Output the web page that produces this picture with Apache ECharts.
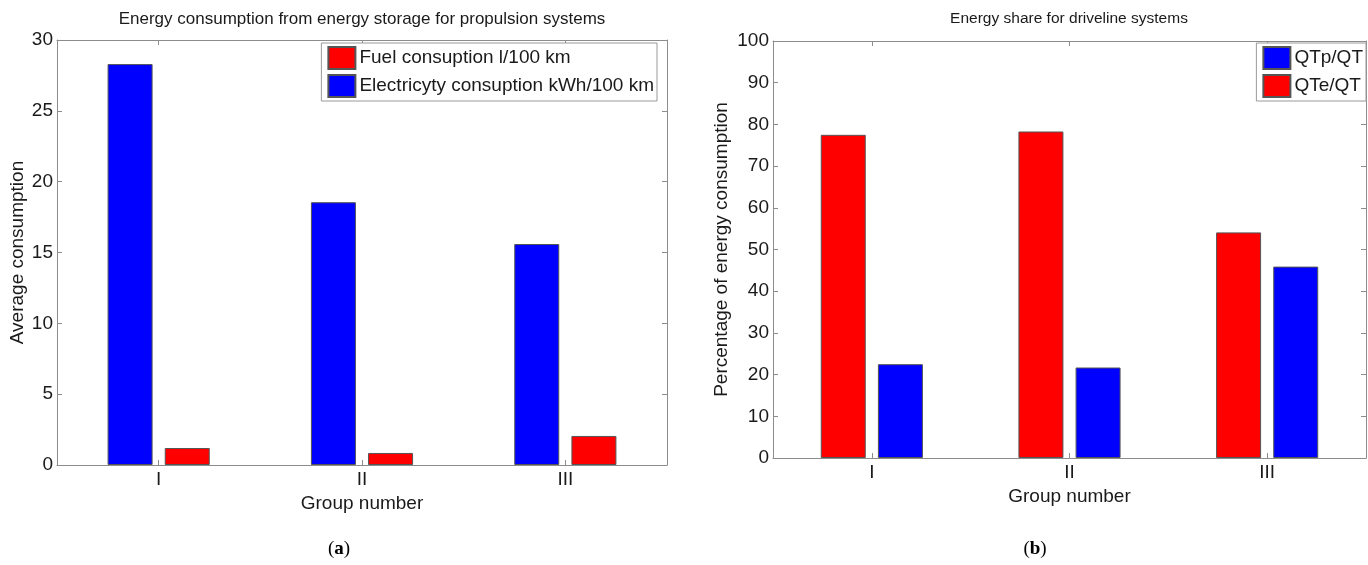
<!DOCTYPE html>
<html>
<head>
<meta charset="utf-8">
<script src="https://cdn.jsdelivr.net/npm/echarts@6/dist/echarts.min.js"></script>
<style>
  html, body { margin: 0; padding: 0; background: #fff; }
  #chart { width: 1368px; height: 565px; }
</style>
</head>
<body>
<div id="chart"></div>
<script>
// Group labels shared by both panels
const groups = ['I', 'II', 'III'];

// Panel (a): average consumption per group
const electricityKWh = [28.3, 18.55, 15.6];
const fuelLitres = [1.2, 0.85, 2.05];
const consumptionTicks = { min: 0, max: 30, interval: 5 };

// Panel (b): energy share per group, in percent
const shareQTe = [77.5, 78.3, 54.1];
const shareQTp = [22.5, 21.7, 45.9];
const shareTicks = { min: 0, max: 100, interval: 10 };

const FONT = '"Liberation Sans", Arial, sans-serif';
const FRAME = '#8c8c8c';
const TEXT = '#1a1a1a';
const RED = '#ff0000';
const BLUE = '#0000ff';
const FS = 19;

function catAxis(gridIndex, pos, withLabels, name) {
  return {
    type: 'category', gridIndex, position: pos, data: groups,
    boundaryGap: true,
    axisLine: { show: true, onZero: false, lineStyle: { color: FRAME, width: 1 } },
    axisTick: { show: true, inside: true, alignWithLabel: true, length: 5, lineStyle: { color: FRAME } },
    axisLabel: { show: withLabels, color: TEXT, fontFamily: FONT, fontSize: FS, margin: 5 },
    name: withLabels ? name : '', nameLocation: 'middle', nameGap: 25,
    nameTextStyle: { color: TEXT, fontFamily: FONT, fontSize: FS },
    splitLine: { show: false }
  };
}

function valAxis(gridIndex, pos, ticks, withLabels, name, nameGap) {
  return {
    type: 'value', gridIndex, position: pos,
    min: ticks.min, max: ticks.max, interval: ticks.interval,
    axisLine: { show: true, onZero: false, lineStyle: { color: FRAME, width: 1 } },
    axisTick: { show: true, inside: true, length: 5, lineStyle: { color: FRAME } },
    axisLabel: { show: withLabels, color: TEXT, fontFamily: FONT, fontSize: FS, margin: 4 },
    name: withLabels ? name : '', nameLocation: 'middle', nameGap: nameGap, nameRotate: 90,
    nameTextStyle: { color: TEXT, fontFamily: FONT, fontSize: FS },
    splitLine: { show: false }
  };
}

function barSeries(name, data, color, xi, yi) {
  return {
    type: 'bar', name, data, xAxisIndex: xi, yAxisIndex: yi,
    barWidth: 45, barGap: '27%',
    itemStyle: { color, borderColor: '#555', borderWidth: 1 },
    emphasis: { disabled: true },
    animation: false
  };
}

const legendBase = {
  orient: 'vertical', icon: 'rect', itemWidth: 27, itemHeight: 22, itemGap: 4,
  backgroundColor: '#fff', borderColor: '#9a9a9a', borderWidth: 1, padding: [3, 3, 3, 6],
  textStyle: { color: TEXT, fontFamily: FONT, fontSize: FS, padding: [0, 0, 0, -1] },
  selectedMode: false
};

const chart = echarts.init(document.getElementById('chart'), null, { renderer: 'canvas' });

chart.setOption({
  backgroundColor: '#fff',
  animation: false,
  grid: [
    { left: 57, right: 701, top: 40, bottom: 100, show: false },
    { left: 773, right: 2, top: 41, bottom: 107, show: false }
  ],
  xAxis: [
    catAxis(0, 'bottom', true, 'Group number'),
    catAxis(0, 'top', false, ''),
    catAxis(1, 'bottom', true, 'Group number'),
    catAxis(1, 'top', false, '')
  ],
  yAxis: [
    valAxis(0, 'left', consumptionTicks, true, 'Average consumption', 30),
    valAxis(0, 'right', consumptionTicks, false, '', 0),
    valAxis(1, 'left', shareTicks, true, 'Percentage of energy consumption', 42),
    valAxis(1, 'right', shareTicks, false, '', 0)
  ],
  legend: [
    Object.assign({}, legendBase, {
      right: 711, top: 43,
      data: ['Fuel consuption l/100 km', 'Electricyty consuption kWh/100 km']
    }),
    Object.assign({}, legendBase, {
      right: 2, top: 43,
      data: ['QTp/QT', 'QTe/QT']
    })
  ],
  series: [
    barSeries('Electricyty consuption kWh/100 km', electricityKWh, BLUE, 0, 0),
    barSeries('Fuel consuption l/100 km', fuelLitres, RED, 0, 0),
    barSeries('QTe/QT', shareQTe, RED, 2, 2),
    barSeries('QTp/QT', shareQTp, BLUE, 2, 2)
  ],
  graphic: [
    { type: 'text', x: 362, y: 19, style: { text: 'Energy consumption from energy storage for propulsion systems',
      font: '17px ' + FONT, fill: TEXT, textAlign: 'center', textVerticalAlign: 'middle' } },
    { type: 'text', x: 1069, y: 19, style: { text: 'Energy share for driveline systems',
      font: '15.5px ' + FONT, fill: TEXT, textAlign: 'center', textVerticalAlign: 'middle' } },
    { type: 'text', x: 339, y: 549, style: { text: '({b|a})',
      font: '19px "Liberation Serif", "DejaVu Serif", serif', fill: '#000', textAlign: 'center', textVerticalAlign: 'middle',
      rich: { b: { fontWeight: 'bold', fontSize: 19, fontFamily: '"Liberation Serif", serif' } } } },
    { type: 'text', x: 1035, y: 549, style: { text: '({b|b})',
      font: '19px "Liberation Serif", "DejaVu Serif", serif', fill: '#000', textAlign: 'center', textVerticalAlign: 'middle',
      rich: { b: { fontWeight: 'bold', fontSize: 19, fontFamily: '"Liberation Serif", serif' } } } }
  ]
});
</script>
</body>
</html>
